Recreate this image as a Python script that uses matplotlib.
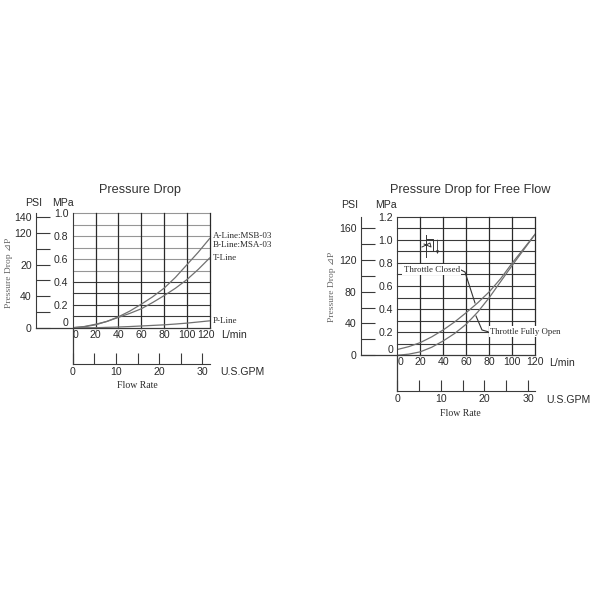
import matplotlib
matplotlib.use("Agg")
import matplotlib.pyplot as plt
from matplotlib.transforms import ScaledTranslation

plt.rcParams["font.family"] = ["Liberation Sans", "DejaVu Sans"]
SERIF = ["Liberation Serif", "DejaVu Sans"]
DARK = "#3a3a3a"
GREY = "#969696"
CURVE = "#707070"
TEXT = "#2a2a2a"
TICK_SIZE = 7.6
MPA_PER_PSI = 0.0068948
LPM_PER_GPM = 3.78541

flow = [0, 10, 20, 30, 40, 50, 60, 70, 80, 90, 100, 110, 120]

# left chart
a_line = [0, 0.008, 0.025, 0.055, 0.095, 0.145, 0.205, 0.27, 0.345, 0.44, 0.55, 0.66, 0.78]
t_line = [0, 0.01, 0.03, 0.055, 0.09, 0.125, 0.165, 0.22, 0.28, 0.345, 0.42, 0.51, 0.61]
p_line = [0, 0, 0, 0.003, 0.006, 0.01, 0.015, 0.02, 0.025, 0.032, 0.04, 0.05, 0.06]
left_mpa = [0, 0.2, 0.4, 0.6, 0.8, 1.0]
left_psi = [0, 20, 40, 60, 80, 100, 120, 140]
left_psi_labels = ["0", "", "40", "", "20", "", "120", "140"]

# right chart
closed = [0.05, 0.075, 0.11, 0.16, 0.22, 0.29, 0.37, 0.455, 0.55, 0.665, 0.8, 0.925, 1.05]
fully_open = [0, 0.01, 0.03, 0.07, 0.125, 0.19, 0.27, 0.375, 0.5, 0.64, 0.78, 0.915, 1.05]
right_mpa = [0, 0.2, 0.4, 0.6, 0.8, 1.0, 1.2]
right_psi = [0, 20, 40, 60, 80, 100, 120, 140, 160]
right_psi_labels = ["0", "", "40", "", "80", "", "120", "", "160"]

lpm_ticks = [0, 20, 40, 60, 80, 100, 120]
gpm_ticks = [0, 5, 10, 15, 20, 25, 30]
gpm_labels = ["0", "", "10", "", "20", "", "30"]


def make_chart(fig, box, ymax, mpa_ticks, psi_ticks, psi_labels, psi_x, gpm_y, dark_from):
    x0, x1, top, bottom = box
    ax = fig.add_axes([x0 / 600, 1 - bottom / 600, (x1 - x0) / 600, (bottom - top) / 600])
    ax.set_xlim(0, 120)
    ax.set_ylim(0, ymax)
    for s in ["top", "right"]:
        ax.spines[s].set_visible(False)
    ax.spines["left"].set_color(DARK)
    ax.spines["bottom"].set_visible(False)

    # grid, lighter in the upper part
    level = 0.1
    while level < ymax + 0.01:
        ax.axhline(level, color=DARK if level < dark_from else GREY, lw=0.8, clip_on=False)
        level += 0.1
    for v in lpm_ticks[1:]:
        ax.axvline(v, color="#2a2a2a", lw=0.9, clip_on=False)

    ax.set_xticks(lpm_ticks)
    ax.tick_params(axis="x", length=0, pad=1.5, labelsize=TICK_SIZE, labelcolor=TEXT)
    ax.get_xticklabels()[0].set_ha("left")
    ax.set_yticks(mpa_ticks, labels=["0"] + [f"{m:.1f}" for m in mpa_ticks[1:]])
    ax.tick_params(axis="y", length=0, pad=3, labelsize=TICK_SIZE, labelcolor=TEXT)
    ax.get_yticklabels()[0].set_va("bottom")

    # PSI scale
    psi = ax.secondary_yaxis((psi_x - x0) / (x1 - x0),
                             functions=(lambda m: m / MPA_PER_PSI, lambda p: p * MPA_PER_PSI))
    psi.set_yticks(psi_ticks, labels=psi_labels)
    psi.tick_params(direction="in", length=10, width=0.8, pad=3, labelsize=TICK_SIZE, color=DARK, labelcolor=TEXT)
    psi.spines["left"].set_color(DARK)

    # GPM scale
    gpm_pos = -(gpm_y - bottom) / (bottom - top)
    gpm = ax.secondary_xaxis(gpm_pos,
                             functions=(lambda q: q / LPM_PER_GPM, lambda g: g * LPM_PER_GPM))
    gpm.set_xticks(gpm_ticks, labels=gpm_labels)
    gpm.tick_params(direction="in", length=8, width=0.8, pad=2.5, labelsize=TICK_SIZE, color=DARK, labelcolor=TEXT)
    gpm.spines["bottom"].set_color(DARK)

    # baseline out to the PSI axis, main axis down to the GPM axis
    ax.plot([(psi_x - x0) / (x1 - x0), 1], [0, 0], transform=ax.get_yaxis_transform(),
            color=DARK, lw=0.9, clip_on=False)
    ax.plot([0, 0], [0, gpm_pos], transform=ax.transAxes, color=DARK, lw=0.9, clip_on=False)
    return ax


fig = plt.figure(figsize=(6, 6), dpi=100)

ax1 = make_chart(fig, (72.7, 209.7, 213.3, 327.7), 1.0, left_mpa, left_psi, left_psi_labels, 36, 364, 0.45)
ax1.plot(flow, a_line, color=CURVE, lw=0.9)
ax1.plot(flow, t_line, color=CURVE, lw=0.9)
ax1.plot(flow, p_line, color=CURVE, lw=0.9)
shift = ScaledTranslation(-4 / 100, 0, fig.dpi_scale_trans)
lab = ax1.get_xticklabels()[-1]
lab.set_transform(lab.get_transform() + shift)

ax2 = make_chart(fig, (397.3, 535.3, 216.7, 355.3), 1.2, right_mpa, right_psi, right_psi_labels, 360.7, 391, 2)
ax2.plot(flow, closed, color=CURVE, lw=0.9)
ax2.plot(flow, fully_open, color=CURVE, lw=0.9)

# overlay in image pixels for the loose text and leaders
ov = fig.add_axes([0, 0, 1, 1])
ov.set_xlim(0, 600)
ov.set_ylim(600, 0)
ov.axis("off")
ov.patch.set_alpha(0)


def label(x, y, s, ha="center", size=TICK_SIZE, serif=False, **kw):
    kw.setdefault("color", TEXT)
    ov.text(x, y, s, ha=ha, va="center", fontsize=size, family=SERIF if serif else plt.rcParams["font.family"], **kw)


label(140, 190.5, "Pressure Drop", size=9.2, color="#333333")
label(34, 203, "PSI")
label(62.7, 203, "MPa")
label(9.3, 273, "Pressure Drop ⊿P", size=6.8, serif=True, rotation=90, color="#666666")
label(220.7, 335, "L/min", ha="left")
label(220.7, 372, "U.S.GPM", ha="left")
label(137.7, 386, "Flow Rate", size=7, serif=True)
label(213, 236, "A-Line:MSB-03", ha="left", size=6.5, serif=True)
label(213, 245, "B-Line:MSA-03", ha="left", size=6.5, serif=True)
label(213, 258, "T-Line", ha="left", size=6.5, serif=True)
label(213, 321, "P-Line", ha="left", size=6.5, serif=True)

label(470, 190.5, "Pressure Drop for Free Flow", size=9.2, color="#333333")
label(349.3, 205.5, "PSI")
label(385.7, 205.5, "MPa")
label(332, 286.7, "Pressure Drop ⊿P", size=6.8, serif=True, rotation=90, color="#666666")
label(548.7, 363, "L/min", ha="left")
label(546, 400, "U.S.GPM", ha="left")
label(460.7, 414, "Flow Rate", size=7, serif=True)
label(403.5, 269.5, "Throttle Closed", ha="left", size=6.4, serif=True,
      bbox=dict(facecolor="white", edgecolor="none", pad=1))
label(490, 331.7, "Throttle Fully Open", ha="left", size=6.3, serif=True,
      bbox=dict(facecolor="white", edgecolor="none", pad=1))

ov.plot([460, 465, 475], [269.5, 272, 303], color="#333333", lw=0.8)
ov.plot([488, 482, 476], [331.7, 330, 316], color="#333333", lw=0.8)

# throttle symbol
sym = "#333333"
ov.plot([426, 426], [235, 257], color=sym, lw=0.7)
ov.plot([427, 433, 433, 430], [239, 239, 251, 251], color=sym, lw=0.7)
ov.plot([422, 430, 431, 424], [247, 243, 247, 244], color=sym, lw=0.7)
ov.annotate("", xy=(437.5, 254), xytext=(437.5, 240),
            arrowprops=dict(arrowstyle="-|>", lw=0.6, color=sym, mutation_scale=4, shrinkA=0, shrinkB=0))

fig.savefig("out.png", dpi=100)
